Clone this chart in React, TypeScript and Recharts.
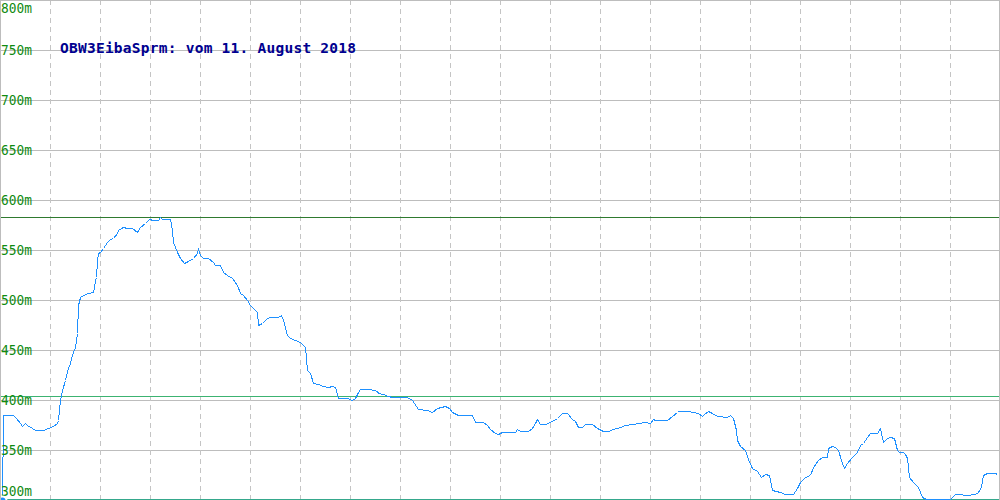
import React from "react";
import { LineChart, Line, XAxis, YAxis, ReferenceLine } from "recharts";

const titleText = "OBW3EibaSprm: vom 11. August 2018";

const distance = [
  2, 3, 13, 16, 20, 22, 25, 27, 32, 35, 43, 48, 53, 57, 58, 60, 62, 65, 68, 70, 72, 73, 75, 77, 78, 80, 83, 88, 93, 94, 95, 96, 97, 98,
  100, 103, 107, 110, 113, 117, 118, 123, 127, 132, 137, 140, 145, 149, 153, 158, 160, 162, 165, 170, 172, 173, 177, 180, 184, 188, 193, 197, 198,
  200, 203, 208, 213, 215, 220, 223, 227, 232, 237, 240, 243, 247, 250, 253, 257, 258, 262, 267, 270, 278, 281, 283, 287, 290, 295,
  300, 305, 307, 310, 313, 318, 323, 328, 332, 335, 338, 347, 352, 355, 357, 360, 370, 377, 378, 383, 388, 392,
  407, 412, 418, 427, 432, 437, 445, 449, 452, 458, 472, 475, 483, 487, 490, 495, 498,
  502, 515, 517, 520, 528, 532, 535, 537, 540, 545, 552, 557, 562, 567, 572, 575, 578, 582, 585, 592, 597,
  603, 608, 613, 620, 625, 633, 638, 645, 650, 653, 655, 667, 672, 677, 678, 688, 693, 698,
  702, 704, 708, 712, 717, 727, 730, 733, 736, 737, 740, 745, 748, 752, 757, 761, 765, 769, 772, 780, 785, 793, 797,
  800, 805, 810, 813, 818, 822, 827, 828, 832, 835, 838, 842, 844, 847, 852, 857, 860, 863, 867, 870, 877, 880, 883, 887, 890, 894, 897, 899,
  903, 905, 907, 909, 913, 918, 922, 926, 947, 950, 955, 958, 967, 975, 978, 981, 983, 987, 995, 997,
];

const elevation = [
  300, 385, 385, 382, 377, 374, 377, 375, 372, 370, 370, 372, 374, 377, 380, 400, 410, 420, 432, 437, 445, 448, 453, 467, 495, 503, 505, 507, 508, 513, 520, 523, 540, 547,
  548, 552, 558, 561, 562, 567, 570, 573, 572, 572, 568, 573, 577, 581, 580, 580, 583, 581, 581, 581, 570, 558, 548, 542, 537, 539, 542, 547, 551,
  545, 542, 542, 538, 535, 535, 528, 525, 522, 515, 507, 505, 500, 495, 492, 488, 475, 477, 482, 483, 483, 485, 480, 465, 462, 460,
  458, 453, 430, 427, 417, 416, 414, 413, 414, 413, 402, 402, 400, 402, 406, 411, 411, 409, 407, 406, 404, 403,
  403, 400, 391, 390, 388, 392, 394, 392, 388, 385, 385, 378, 378, 375, 371, 367, 366,
  368, 368, 371, 369, 369, 372, 377, 381, 376, 376, 379, 382, 387, 387, 381, 379, 373, 373, 376, 376, 372,
  369, 369, 371, 373, 375, 376, 377, 378, 377, 381, 380, 380, 384, 388, 389, 389, 388, 387,
  384, 386, 389, 387, 384, 383, 385, 382, 370, 360, 354, 350, 341, 332, 329, 323, 326, 325, 310, 308, 306, 306, 312,
  318, 323, 325, 333, 340, 343, 343, 352, 354, 353, 350, 337, 332, 337, 343, 348, 355, 357, 363, 367, 367, 372, 358, 362, 363, 362, 350, 348,
  348, 346, 342, 323, 318, 313, 303, 301, 301, 301, 306, 306, 305, 306, 308, 313, 325, 327, 327, 326,
];

const yTicks = [300, 350, 400, 450, 500, 550, 600, 650, 700, 750, 800];
const hGrid = [350, 400, 450, 500, 550, 600, 650, 700, 750];
const vGrid = [50, 100, 150, 200, 250, 300, 350, 400, 450, 500, 550, 600, 650, 700, 750, 800, 850, 900, 950];
const maxElevation = 583;
const meanElevation = 404;
const minElevation = 301;

const data = distance.map((d, i) => ({ d, e: elevation[i] }));

const makeLabel = (v: number) => (props: any) => {
  const vb = props.viewBox || {};
  const y = typeof vb.y === "number" ? vb.y : 0;
  const cy = Math.max(8, Math.min(491, y - 0.5));
  return (
    <text
      x={1}
      y={cy}
      dominantBaseline="central"
      textAnchor="start"
      fill="#108a10"
      fontFamily="'DejaVu Sans Mono', monospace"
      fontSize={13.5}
      textLength={31}
      lengthAdjust="spacingAndGlyphs"
    >
      {v}m
    </text>
  );
};

export default function App() {
  return (
    <div style={{ position: "relative", width: 1000, height: 500 }}>
      <style>{`body{margin:0} .recharts-line-curve{shape-rendering:crispEdges}`}</style>
      <LineChart width={1000} height={500} data={data} margin={{ top: 0, right: 0, bottom: 0, left: 0 }}>
        <XAxis dataKey="d" type="number" domain={[-0.5, 999.5]} hide />
        <YAxis type="number" domain={[300.5, 800.5]} allowDataOverflow hide />
        {hGrid.map((v) => (
          <ReferenceLine key={"h" + v} y={v} stroke="#bdbdbd" strokeWidth={1} />
        ))}
        {vGrid.map((v) => (
          <ReferenceLine key={"v" + v} x={v} stroke="#c4c4c4" strokeWidth={1} strokeDasharray="5 4" />
        ))}
        <ReferenceLine y={maxElevation} stroke="#2f7a2f" strokeWidth={1} />
        <ReferenceLine y={meanElevation} stroke="#3cb371" strokeWidth={1} />
        <ReferenceLine y={minElevation} stroke="#35a88c" strokeWidth={1} />
        <Line
          type="linear"
          dataKey="e"
          stroke="#1e90ff"
          strokeWidth={1}
          dot={false}
          isAnimationActive={false}
        />
        {yTicks.map((v) => (
          <ReferenceLine
            key={"t" + v}
            y={v}
            stroke="none"
            ifOverflow="visible"
            label={makeLabel(v)}
          />
        ))}
      </LineChart>
      <div
        style={{
          position: "absolute",
          left: 0,
          top: 0,
          width: 1000,
          height: 500,
          boxSizing: "border-box",
          borderTop: "1px solid #bdbdbd",
          borderLeft: "1px solid #bdbdbd",
          borderRight: "1px solid #bdbdbd",
          pointerEvents: "none",
        }}
      />
      <svg
        width={1000}
        height={500}
        style={{ position: "absolute", left: 0, top: 0, pointerEvents: "none" }}
      >
        <text
          x={60}
          y={53}
          fill="#000090"
          fontFamily="'DejaVu Sans Mono', monospace"
          fontWeight="bold"
          fontSize={14.5}
          textLength={296}
          lengthAdjust="spacing"
        >
          {titleText}
        </text>
      </svg>
    </div>
  );
}
